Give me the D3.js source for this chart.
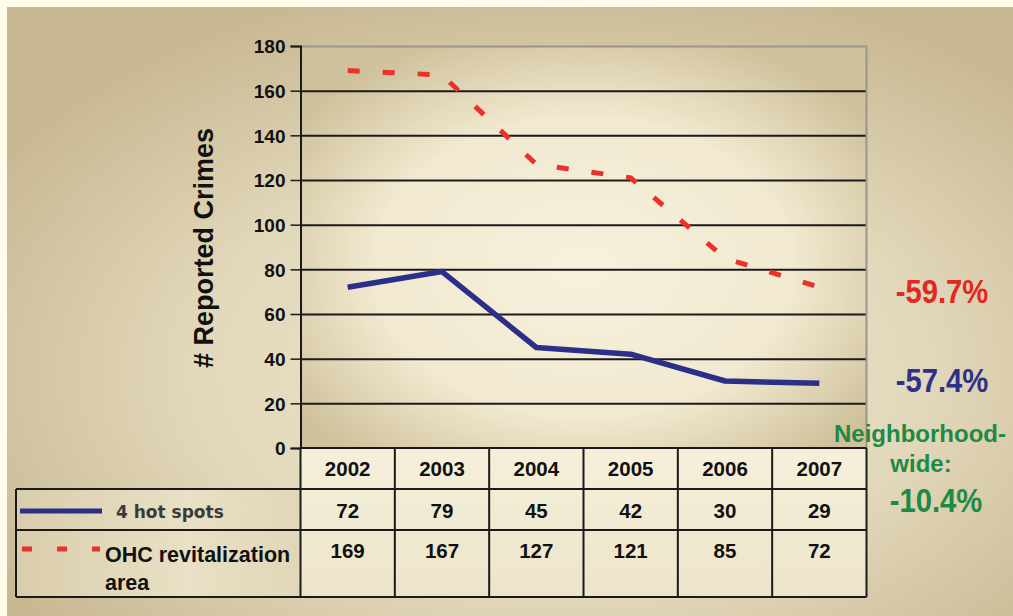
<!DOCTYPE html>
<html>
<head>
<meta charset="utf-8">
<script src="https://cdn.jsdelivr.net/npm/d3@7"></script>
<style>
  html, body { margin: 0; padding: 0; background: #fffcec; }
  svg { display: block; font-family: "Liberation Sans", Arial, sans-serif; font-weight: bold; }
</style>
</head>
<body>
<svg id="chart" width="1013" height="616"></svg>
<script>
// Reported crimes by year
const years = ["2002", "2003", "2004", "2005", "2006", "2007"];
const hotSpots = [72, 79, 45, 42, 30, 29];
const ohcArea = [169, 167, 127, 121, 85, 72];
const yTicks = [0, 20, 40, 60, 80, 100, 120, 140, 160, 180];
const seriesNames = ["4 hot spots", "OHC revitalization", "area"];
const changeLabels = ["-59.7%", "-57.4%"];
const neighborhoodLabel = ["Neighborhood-", "wide:", "-10.4%"];

const baseFont = "'Liberation Sans', Arial, sans-serif";
const wideFont = "'DejaVu Sans', Verdana, sans-serif";

const svg = d3.select("#chart");
const defs = svg.append("defs");

// Page panel background
const panelGrad = defs.append("radialGradient").attr("id", "panelGrad")
  .attr("cx", 0.55).attr("cy", 0.6).attr("r", 0.65);
panelGrad.append("stop").attr("offset", 0).attr("stop-color", "#efe8d1");
panelGrad.append("stop").attr("offset", 0.55).attr("stop-color", "#e2d8bb");
panelGrad.append("stop").attr("offset", 1).attr("stop-color", "#c9b993");

// Plot area background
const plotGrad = defs.append("radialGradient").attr("id", "plotGrad")
  .attr("cx", 0.5).attr("cy", 0.55).attr("r", 0.62);
plotGrad.append("stop").attr("offset", 0).attr("stop-color", "#f7f1dd");
plotGrad.append("stop").attr("offset", 0.6).attr("stop-color", "#f1e9d0");
plotGrad.append("stop").attr("offset", 1).attr("stop-color", "#cfc19b");

const cellGrad = defs.append("linearGradient").attr("id", "cellGrad")
  .attr("x1", 0).attr("y1", 0).attr("x2", 0).attr("y2", 1);
cellGrad.append("stop").attr("offset", 0).attr("stop-color", "#f6f0db");
cellGrad.append("stop").attr("offset", 1).attr("stop-color", "#ece4ca");

const legendGrad = defs.append("linearGradient").attr("id", "legendGrad")
  .attr("x1", 0).attr("y1", 0).attr("x2", 1).attr("y2", 0);
legendGrad.append("stop").attr("offset", 0).attr("stop-color", "#d9cdab");
legendGrad.append("stop").attr("offset", 0.6).attr("stop-color", "#e9e0c5");
legendGrad.append("stop").attr("offset", 1).attr("stop-color", "#e1d6b8");

svg.append("rect").attr("x", 7).attr("y", 7).attr("width", 1006).attr("height", 609)
  .attr("fill", "url(#panelGrad)");

// Scales
const plotLeft = 300.5, plotRight = 866.5, plotTop = 46, plotBottom = 448;
const x = d3.scaleBand().domain(years).range([plotLeft, plotRight]).paddingInner(0).paddingOuter(0);
const y = d3.scaleLinear().domain([0, 180]).range([plotBottom, plotTop]);
const xc = d => x(d) + x.bandwidth() / 2;

// Plot area
svg.append("rect").attr("x", plotLeft).attr("y", plotTop)
  .attr("width", plotRight - plotLeft).attr("height", plotBottom - plotTop)
  .attr("fill", "url(#plotGrad)");

// Gridlines
const grid = svg.append("g").attr("transform", `translate(${plotLeft},0)`)
  .call(d3.axisLeft(y).tickValues(yTicks.filter(v => v > 0)).tickSize(-(plotRight - plotLeft)).tickFormat(""));
grid.select(".domain").remove();
grid.selectAll(".tick line")
  .attr("stroke", d => d === 180 ? "#9a968c" : "#1a1a1a")
  .attr("stroke-width", 2);

// Right border of plot
svg.append("line").attr("x1", plotRight).attr("x2", plotRight).attr("y1", plotTop).attr("y2", plotBottom)
  .attr("stroke", "#9a968c").attr("stroke-width", 2);

// Y axis
const yAxis = svg.append("g").attr("transform", `translate(${plotLeft},0)`)
  .call(d3.axisLeft(y).tickValues(yTicks).tickSize(10).tickPadding(5));
yAxis.select(".domain").attr("stroke", "#1a1a1a").attr("stroke-width", 2);
yAxis.selectAll(".tick line").attr("stroke", "#1a1a1a").attr("stroke-width", 1.5);
yAxis.selectAll(".tick text")
  .attr("fill", "#111").attr("font-size", 19).attr("font-weight", "bold")
  .attr("font-family", baseFont).attr("dy", "0.36em");

svg.append("text")
  .attr("transform", `translate(213,248) rotate(-90)`)
  .attr("text-anchor", "middle").attr("font-size", 27).attr("fill", "#111")
  .text("# Reported Crimes");

// Data table
const rowTop = [448, 489, 530];
const rowBottom = [489, 530, 597];
const tableLeft = 16;

// Legend column box
svg.append("rect").attr("x", tableLeft).attr("y", rowTop[1])
  .attr("width", plotLeft - tableLeft).attr("height", rowBottom[2] - rowTop[1])
  .attr("fill", "url(#legendGrad)");
// Value cells
svg.append("g").selectAll("rect").data(years).join("rect")
  .attr("x", d => x(d)).attr("y", rowTop[0]).attr("width", x.bandwidth())
  .attr("height", rowBottom[2] - rowTop[0]).attr("fill", "url(#cellGrad)");

const tableLines = svg.append("g").attr("stroke", "#1a1a1a").attr("stroke-width", 2);
// horizontal
tableLines.append("line").attr("x1", plotLeft).attr("x2", plotRight).attr("y1", rowTop[0]).attr("y2", rowTop[0]);
[rowTop[1], rowTop[2], rowBottom[2]].forEach(v => {
  tableLines.append("line").attr("x1", tableLeft).attr("x2", plotRight).attr("y1", v).attr("y2", v);
});
// vertical
years.forEach(d => {
  tableLines.append("line").attr("x1", x(d)).attr("x2", x(d)).attr("y1", rowTop[0]).attr("y2", rowBottom[2]);
});
tableLines.append("line").attr("x1", plotRight).attr("x2", plotRight).attr("y1", rowTop[0]).attr("y2", rowBottom[2]);
tableLines.append("line").attr("x1", tableLeft).attr("x2", tableLeft).attr("y1", rowTop[1]).attr("y2", rowBottom[2]);

const cellText = (vals, baseline) => svg.append("g").selectAll("text").data(vals).join("text")
  .attr("x", (d, i) => xc(years[i])).attr("y", baseline)
  .attr("text-anchor", "middle").attr("font-size", 20.5).attr("fill", "#111")
  .text(d => d);
cellText(years, 476);
cellText(hotSpots, 518);
cellText(ohcArea, 558);

// Legend keys
svg.append("line").attr("x1", 20).attr("x2", 102).attr("y1", 511).attr("y2", 511)
  .attr("stroke", "#2b2f8a").attr("stroke-width", 5);
svg.append("text").attr("x", 116).attr("y", 518).attr("font-size", 17)
  .style("font-family", wideFont).attr("fill", "#3a3a3a")
  .text(seriesNames[0]);
svg.append("line").attr("x1", 22).attr("x2", 100).attr("y1", 549).attr("y2", 549)
  .attr("stroke", "#e8322a").attr("stroke-width", 5).attr("stroke-dasharray", "10,25");
svg.append("text").attr("x", 105).attr("y", 562).attr("font-size", 21.5).attr("fill", "#111")
  .text(seriesNames[1]);
svg.append("text").attr("x", 105).attr("y", 590).attr("font-size", 21.5).attr("fill", "#111")
  .text(seriesNames[2]);

// Series lines
const line = d3.line().x((d, i) => xc(years[i])).y(d => y(d));
svg.append("path").datum(ohcArea).attr("d", line)
  .attr("fill", "none").attr("stroke", "#e8322a").attr("stroke-width", 5)
  .attr("stroke-dasharray", "12,23");
svg.append("path").datum(hotSpots).attr("d", line)
  .attr("fill", "none").attr("stroke", "#2b2f8a").attr("stroke-width", 5.5)
  .attr("stroke-linejoin", "round");

// Change annotations (condensed bold figures)
const condensed = (label, cx, baseline, color) => svg.append("text")
  .attr("transform", `translate(${cx},${baseline}) scale(0.86,1)`)
  .attr("text-anchor", "middle").attr("font-size", 34).attr("fill", color).text(label);
condensed(changeLabels[0], 942, 303, "#e2281f");
condensed(changeLabels[1], 942, 392, "#2e3089");
svg.append("text").attr("x", 920).attr("y", 442).attr("text-anchor", "middle")
  .attr("font-size", 24).attr("fill", "#1e8a45").text(neighborhoodLabel[0]);
svg.append("text").attr("x", 921).attr("y", 472).attr("text-anchor", "middle")
  .attr("font-size", 24).attr("fill", "#1e8a45").text(neighborhoodLabel[1]);
condensed(neighborhoodLabel[2], 936, 512, "#1e8a45");
</script>
</body>
</html>
